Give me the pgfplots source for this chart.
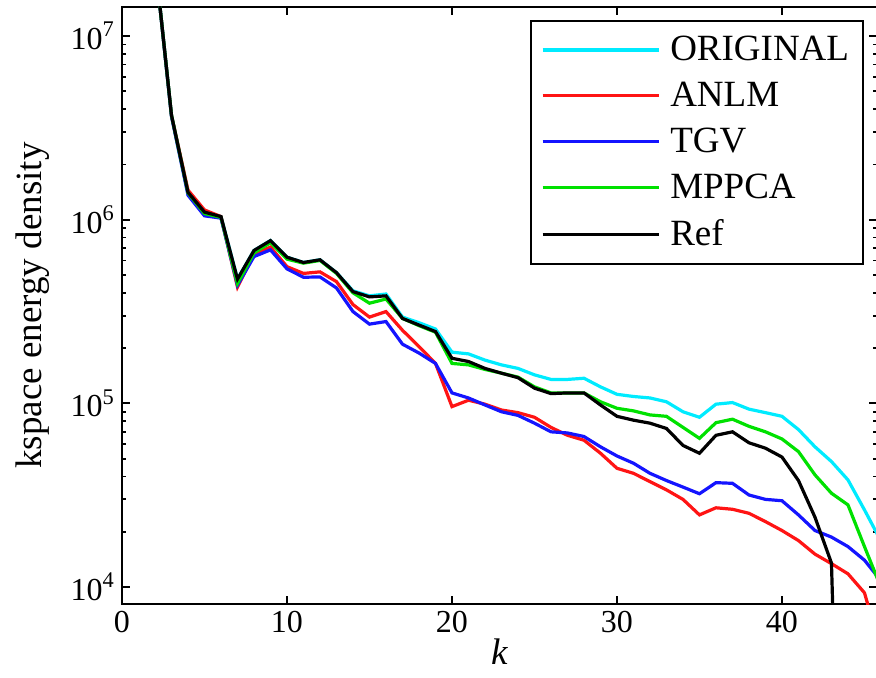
\documentclass[border=0pt]{standalone}
\usepackage{pgfplots}
\pgfplotsset{compat=1.18}
\usepackage{pgfplotstable}
\usepackage{fontspec}
\setmainfont{Liberation Serif}
\definecolor{mycyan}{RGB}{0,235,255}
\definecolor{myred}{RGB}{255,20,20}
\definecolor{myblue}{RGB}{20,20,255}
\definecolor{mygreen}{RGB}{0,225,0}
\pgfplotstableread{
k orig anlm tgv mppca ref
1 1.5e8 1.5e8 1.5e8 1.5e8 1.5e8
2 2.6e7 2.6e7 2.6e7 2.6e7 2.6e7
3 3.7e6 3.7e6 3.65e6 3.7e6 3.7e6
4 1.41e6 1.45e6 1.36e6 1.40e6 1.41e6
5 1.10e6 1.13e6 1.05e6 1.08e6 1.10e6
6 1.04e6 1.04e6 1.02e6 1.03e6 1.04e6
7 4.75e5 4.3e5 4.4e5 4.5e5 4.75e5
8 6.8e5 6.5e5 6.3e5 6.6e5 6.8e5
9 7.7e5 7.1e5 6.85e5 7.5e5 7.7e5
10 6.25e5 5.55e5 5.4e5 6.1e5 6.25e5
11 5.85e5 5.1e5 4.86e5 5.8e5 5.85e5
12 6.05e5 5.2e5 4.88e5 6.0e5 6.05e5
13 5.15e5 4.6e5 4.25e5 5.1e5 5.15e5
14 4.1e5 3.45e5 3.16e5 4.0e5 4.06e5
15 3.85e5 2.95e5 2.7e5 3.51e5 3.8e5
16 3.94e5 3.16e5 2.79e5 3.7e5 3.85e5
17 2.95e5 2.5e5 2.1e5 2.9e5 2.9e5
18 2.75e5 2.04e5 1.88e5 2.65e5 2.67e5
19 2.54e5 1.65e5 1.65e5 2.44e5 2.46e5
20 1.9e5 9.6e4 1.14e5 1.65e5 1.76e5
21 1.86e5 1.04e5 1.07e5 1.62e5 1.69e5
22 1.72e5 9.9e4 9.8e4 1.53e5 1.55e5
23 1.62e5 9.2e4 9.0e4 1.46e5 1.46e5
24 1.55e5 8.9e4 8.6e4 1.39e5 1.38e5
25 1.43e5 8.4e4 7.8e4 1.23e5 1.21e5
26 1.35e5 7.4e4 7.0e4 1.14e5 1.13e5
27 1.35e5 6.7e4 6.9e4 1.14e5 1.14e5
28 1.37e5 6.3e4 6.6e4 1.14e5 1.14e5
29 1.23e5 5.35e4 5.8e4 1.02e5 9.8e4
30 1.12e5 4.43e4 5.17e4 9.4e4 8.5e4
31 1.09e5 4.16e4 4.72e4 9.1e4 8.1e4
32 1.07e5 3.75e4 4.16e4 8.65e4 7.8e4
33 1.02e5 3.38e4 3.8e4 8.5e4 7.3e4
34 9.0e4 3.0e4 3.5e4 7.4e4 5.9e4
35 8.4e4 2.47e4 3.22e4 6.45e4 5.35e4
36 9.9e4 2.7e4 3.7e4 7.85e4 6.7e4
37 1.01e5 2.65e4 3.67e4 8.2e4 7.0e4
38 9.3e4 2.52e4 3.17e4 7.5e4 6.1e4
39 8.9e4 2.27e4 3.0e4 7.0e4 5.7e4
40 8.5e4 2.03e4 2.95e4 6.4e4 5.1e4
41 7.2e4 1.79e4 2.47e4 5.46e4 3.8e4
42 5.8e4 1.51e4 2.03e4 4.08e4 2.4e4
43 4.82e4 1.34e4 1.87e4 3.24e4 1.35e4
44 3.83e4 1.18e4 1.66e4 2.8e4 10
45 2.63e4 9.3e3 1.4e4 1.66e4 nan
46 1.78e4 4.5e3 1.08e4 9.95e3 nan
}\datatable
\begin{document}
\begin{tikzpicture}
\begin{axis}[
  scale only axis,
  width=377.5pt, height=298.5pt,
  ymode=log,
  xmin=0, xmax=45.76,
  ymin=8.08e3, ymax=1.44e7,
  xtick={0,10,20,30,40},
  ytick={1e4,1e5,1e6,1e7},
  yticklabels={10\textsuperscript{4},10\textsuperscript{5},10\textsuperscript{6},10\textsuperscript{7}},
  log identify minor tick positions=true,
  /pgf/number format/assume math mode=true,
  tick align=inside,
  major tick length=4pt,
  minor tick length=2.2pt,
  every tick/.style={black, line width=0.9pt},
  axis line style={line width=1.1pt},
  ticklabel style={font=\rmfamily\fontsize{16}{16}\selectfont},
  xlabel={\textit{k}},
  ylabel={kspace energy density},
  label style={font=\rmfamily\fontsize{18.5}{20}\selectfont},
  xlabel style={yshift=4pt},
  ylabel style={yshift=4pt},
  legend cell align=left,
  legend style={at={(0.983,0.978)}, anchor=north east, draw=black, line width=1.1pt,
    font=\rmfamily\fontsize{18.5}{20}\selectfont, row sep=5.2pt, inner xsep=5pt, inner ysep=5.5pt,
    /tikz/every odd column/.append style={column sep=3pt}},
  legend image code/.code={\draw[#1] (0pt,0pt) -- (58pt,0pt);},
  clip=true,
]
\coordinate (bl) at (rel axis cs:0,0);
\coordinate (tr) at (rel axis cs:1,1);
\addplot[mycyan, line width=1.6pt] table[x=k, y=orig] {\datatable};
\addlegendentry{ORIGINAL}
\addplot[myred, line width=1.6pt] table[x=k, y=anlm] {\datatable};
\addlegendentry{ANLM}
\addplot[myblue, line width=1.6pt] table[x=k, y=tgv] {\datatable};
\addlegendentry{TGV}
\addplot[mygreen, line width=1.6pt] table[x=k, y=mppca] {\datatable};
\addlegendentry{MPPCA}
\addplot[black, line width=1.6pt] table[x=k, y=ref] {\datatable};
\addlegendentry{Ref}
\end{axis}
\pgfresetboundingbox
\path[use as bounding box] ([shift={(-61pt,-36.5pt)}]bl) rectangle ([shift={(-0.5pt,3.5pt)}]tr);
\end{tikzpicture}
\end{document}
